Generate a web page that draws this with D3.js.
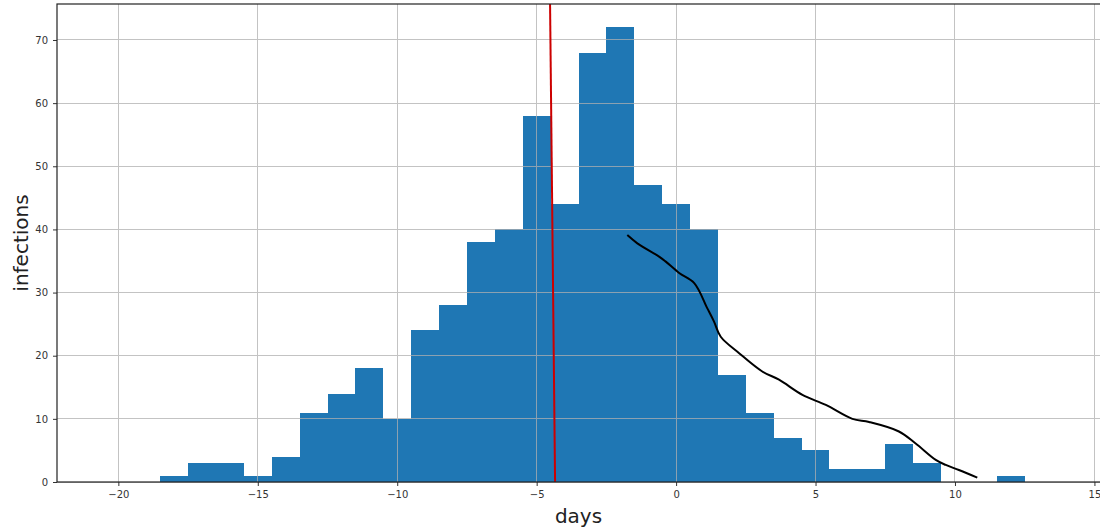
<!DOCTYPE html>
<html>
<head>
<meta charset="utf-8">
<script src="https://cdn.jsdelivr.net/npm/d3@7"></script>
<style>
    body { margin: 0; background: #fff; }
    svg { font-family: "DejaVu Sans", sans-serif; }
</style>
</head>
<body>
<div id="chart"></div>
<script>
"use strict";

// histogram bins (centre day) and counts
let days = [-18, -17, -16, -15, -14, -13, -12, -11, -10, -9, -8, -7, -6, -5, -4, -3, -2, -1,
            0, 1, 2, 3, 4, 5, 6, 7, 8, 9, 10, 11, 12];
let infections = [1, 3, 3, 1, 4, 11, 14, 18, 10, 24, 28, 38, 40, 58, 44, 68, 72, 47,
                  44, 40, 17, 11, 7, 5, 2, 2, 6, 3, 0, 0, 1];

// hand drawn black curve
let curveX = [-1.75, -1.39, -0.61, -0.37, 0.11, 0.65, 1.12, 1.36, 1.60, 2.26, 3.09, 3.69,
              4.53, 5.37, 6.32, 6.92, 7.99, 8.59, 9.31, 9.67, 10.14, 10.80];
let curveY = [39.1, 37.8, 35.7, 34.9, 33.1, 31.5, 27.5, 25.4, 23.0, 20.4, 17.5, 16.2,
              13.8, 12.2, 10.0, 9.5, 8.0, 6.1, 3.5, 2.7, 1.9, 0.7];

// red marker line
let redX = [-4.52, -4.34];
let redY = [75.7, 0];

let xTicks = [-20, -15, -10, -5, 0, 5, 10, 15];
let yTicks = [0, 10, 20, 30, 40, 50, 60, 70];

function draw() {
    let width = 1100;
    let height = 528;
    let left = 57, right = 1100, top = 4, bottom = 482;

    let xScale = d3.scaleLinear().domain([-22.2, 15.2]).range([left, right]);
    let yScale = d3.scaleLinear().domain([0, 75.7]).range([bottom, top]);

    let svg = d3.select("#chart").append("svg")
        .attr("width", width).attr("height", height);

    let bins = days.map(function (d, i) { return [d, infections[i]]; })
        .filter(function (d) { return d[1] > 0; });

    svg.selectAll("rect.bar").data(bins).enter()
        .append("rect").attr("class", "bar")
        .attr("x", function (d) { return xScale(d[0] - 0.5); })
        .attr("width", function (d) { return xScale(d[0] + 0.5) - xScale(d[0] - 0.5); })
        .attr("y", function (d) { return yScale(d[1]); })
        .attr("height", function (d) { return bottom - yScale(d[1]); })
        .attr("fill", "#1f77b4")
        .attr("shape-rendering", "crispEdges");

    // grid on top of bars like matplotlib
    let grid = svg.append("g").attr("stroke", "#b0b0b0").attr("stroke-width", 1)
        .attr("opacity", 0.75).attr("shape-rendering", "crispEdges");
    grid.selectAll("line.gx").data(xTicks).enter().append("line")
        .attr("x1", function (d) { return xScale(d); }).attr("x2", function (d) { return xScale(d); })
        .attr("y1", top).attr("y2", bottom);
    grid.selectAll("line.gy").data(yTicks).enter().append("line")
        .attr("y1", function (d) { return yScale(d); }).attr("y2", function (d) { return yScale(d); })
        .attr("x1", left).attr("x2", right);

    // red line
    let redPts = redX.map(function (d, i) { return [d, redY[i]]; });
    svg.append("path").datum(redPts)
        .attr("d", d3.line().x(function (d) { return xScale(d[0]); }).y(function (d) { return yScale(d[1]); }))
        .attr("stroke", "#cc0000").attr("stroke-width", 2).attr("fill", "none");

    // black curve
    let curvePts = curveX.map(function (d, i) { return [d, curveY[i]]; });
    svg.append("path").datum(curvePts)
        .attr("d", d3.line().curve(d3.curveCatmullRom)
            .x(function (d) { return xScale(d[0]); }).y(function (d) { return yScale(d[1]); }))
        .attr("stroke", "#000").attr("stroke-width", 2).attr("fill", "none");

    // axes
    let fmt = function (d) { return d < 0 ? "\u2212" + Math.abs(d) : String(d); };
    let xAxis = svg.append("g").attr("transform", `translate(0,${bottom})`)
        .call(d3.axisBottom(xScale).tickValues(xTicks).tickFormat(fmt).tickSize(4).tickPadding(5));
    let yAxis = svg.append("g").attr("transform", `translate(${left},0)`)
        .call(d3.axisLeft(yScale).tickValues(yTicks).tickSize(4).tickPadding(5));
    [xAxis, yAxis].forEach(function (a) {
        a.select(".domain").remove();
        a.selectAll("text").attr("font-size", 10).attr("fill", "#333")
            .attr("font-family", "DejaVu Sans, sans-serif");
        a.selectAll("line").attr("stroke", "#333");
    });

    // spines
    svg.append("rect").attr("x", left).attr("y", top)
        .attr("width", right - left + 2).attr("height", bottom - top)
        .attr("fill", "none").attr("stroke", "#222").attr("stroke-width", 1.2);

    // labels
    svg.append("text").attr("x", (left + right) / 2).attr("y", 523)
        .attr("text-anchor", "middle").attr("font-size", 20).attr("fill", "#222").text("days");
    svg.append("text").attr("transform", `translate(28,${(top + bottom) / 2}) rotate(-90)`)
        .attr("text-anchor", "middle").attr("font-size", 20).attr("fill", "#222").text("infections");
}

draw();
</script>
</body>
</html>
